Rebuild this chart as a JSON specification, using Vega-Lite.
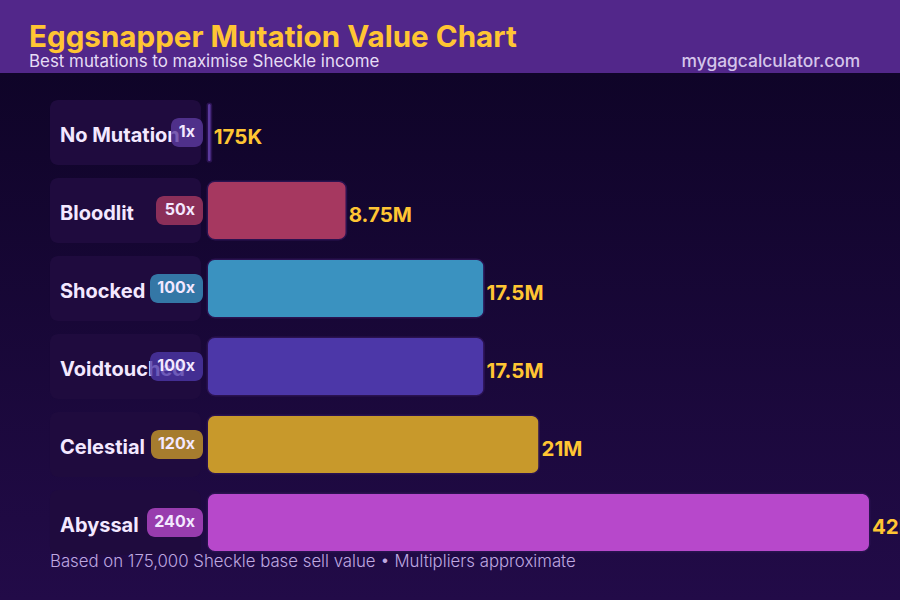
{
  "$schema": "https://vega.github.io/schema/vega-lite/v6.json",
  "width": 900,
  "height": 527,
  "autosize": {"type": "none"},
  "padding": {"left": 0, "top": 73, "right": 0, "bottom": 0},
  "background": "#52278a",
  "title": {
    "text": "Eggsnapper Mutation Value Chart",
    "subtitle": "Best mutations to maximise Sheckle income",
    "anchor": "start",
    "frame": "group",
    "dx": 29,
    "offset": -18,
    "font": "Inter",
    "fontSize": 29.6,
    "fontWeight": 700,
    "color": "#ffc533",
    "subtitleFont": "Inter",
    "subtitleFontSize": 16.9,
    "subtitleFontWeight": 400,
    "subtitleColor": "#e6dcf5",
    "subtitlePadding": 0
  },
  "config": {"view": {"stroke": null}},
  "datasets": {
    "rows": [
      {"name": "No Mutation", "value": 175000, "label": "175K", "multiplier": 1, "badge": "1x"},
      {"name": "Bloodlit", "value": 8750000, "label": "8.75M", "multiplier": 50, "badge": "50x"},
      {"name": "Shocked", "value": 17500000, "label": "17.5M", "multiplier": 100, "badge": "100x"},
      {"name": "Voidtouched", "value": 17500000, "label": "17.5M", "multiplier": 100, "badge": "100x"},
      {"name": "Celestial", "value": 21000000, "label": "21M", "multiplier": 120, "badge": "120x"},
      {"name": "Abyssal", "value": 42000000, "label": "42M", "multiplier": 240, "badge": "240x"}
    ]
  },
  "resolve": {"scale": {"x": "independent"}},
  "layer": [
    {
      "encoding": {
        "x": {"type": "quantitative", "axis": null, "scale": {"domain": [-13216000, 43970000], "nice": false, "zero": false}}
      },
      "layer": [
        {
          "data": {"values": [{}]},
          "mark": {
            "type": "rect",
            "color": {
              "gradient": "linear", "x1": 0, "y1": 0, "x2": 0, "y2": 1,
              "stops": [{"offset": 0, "color": "#0f0428"}, {"offset": 1, "color": "#220b48"}]
            }
          }
        },
        {
          "data": {"name": "rows"},
          "mark": {"type": "rect", "height": 65, "cornerRadius": 8, "color": "#1f0b3e"},
          "encoding": {
            "x": {"datum": -10040000, "type": "quantitative"},
            "x2": {"datum": -445000},
            "y": {"field": "name", "type": "nominal", "axis": null, "sort": null,
              "scale": {"domain": ["No Mutation", "Bloodlit", "Shocked", "Voidtouched", "Celestial", "Abyssal"], "range": [20.5, 488.5], "paddingInner": 0.269, "paddingOuter": 0.1345}}
          }
        },
        {
          "data": {"name": "rows"},
          "mark": {"type": "bar", "cornerRadius": 7, "color": "#2a1250", "stroke": "#2a1250", "strokeWidth": 3},
          "encoding": {
            "x": {"field": "value", "type": "quantitative"},
            "y": {"field": "name", "type": "nominal", "axis": null, "sort": null},
            "opacity": {"condition": {"test": "datum.value < 1000000", "value": 0}, "value": 1}
          }
        },
        {
          "data": {"name": "rows"},
          "mark": {"type": "bar", "cornerRadius": 7},
          "encoding": {
            "x": {"field": "value", "type": "quantitative"},
            "y": {"field": "name", "type": "nominal", "axis": null, "sort": null},
            "color": {"field": "name", "type": "nominal", "legend": null, "sort": null,
              "scale": {"domain": ["No Mutation", "Bloodlit", "Shocked", "Voidtouched", "Celestial", "Abyssal"], "range": ["#5b3a9e", "#a63860", "#3a92c0", "#4c37a8", "#c8992b", "#b748cb"]}}
          }
        },
        {
          "data": {"name": "rows"},
          "mark": {"type": "text", "align": "left", "baseline": "middle", "dx": 3, "dy": 5.5, "font": "Inter", "fontSize": 20.5, "fontWeight": 700, "color": "#ffc533"},
          "encoding": {
            "x": {"field": "value", "type": "quantitative"},
            "y": {"field": "name", "type": "nominal", "axis": null, "sort": null},
            "text": {"field": "label"}
          }
        },
        {
          "data": {"name": "rows"},
          "mark": {"type": "text", "align": "left", "baseline": "middle", "dy": 3.5, "font": "Inter", "fontSize": 20, "fontWeight": 700, "color": "#f3e8ff"},
          "encoding": {
            "x": {"datum": -9404000, "type": "quantitative"},
            "y": {"field": "name", "type": "nominal", "axis": null, "sort": null},
            "text": {"field": "name"}
          }
        },
        {
          "data": {"values": [{"note": "mygagcalculator.com"}]},
          "mark": {"type": "text", "align": "right", "baseline": "middle", "dy": -71, "font": "Inter", "fontSize": 17.4, "fontWeight": 500, "color": "#d5c5ea"},
          "encoding": {
            "x": {"datum": 41442000, "type": "quantitative"},
            "y": {"datum": "No Mutation", "type": "nominal", "axis": null},
            "text": {"field": "note"}
          }
        },
        {
          "data": {"values": [{"note": "Based on 175,000 Sheckle base sell value  •  Multipliers approximate"}]},
          "mark": {"type": "text", "align": "left", "baseline": "middle", "dy": 39, "font": "Inter", "fontSize": 16.8, "fontWeight": 300, "color": "#bfa8e0"},
          "encoding": {
            "x": {"datum": -10040000, "type": "quantitative"},
            "y": {"datum": "Abyssal", "type": "nominal", "axis": null},
            "text": {"field": "note"}
          }
        }
      ]
    },
    {
      "data": {"name": "rows"},
      "encoding": {
        "y": {"field": "name", "type": "nominal", "axis": null, "sort": null}
      },
      "layer": [
        {
          "mark": {"type": "rect", "height": 29, "cornerRadius": 8, "opacity": 0.8},
          "encoding": {
            "x": {"field": "multiplier", "type": "quantitative", "axis": null,
              "scale": {"domain": [0, 1, 50, 100, 120, 240], "range": [203, 171, 156, 150, 151, 147], "nice": false, "zero": false}},
            "x2": {"datum": 0},
            "color": {"field": "name", "type": "nominal", "legend": null, "sort": null}
          }
        },
        {
          "mark": {"type": "text", "align": "right", "baseline": "middle", "dx": -8, "dy": -0.5, "font": "Inter", "fontSize": 16, "fontWeight": 700, "color": "#f3e8ff"},
          "encoding": {
            "x": {"datum": 0, "type": "quantitative"},
            "text": {"field": "badge"}
          }
        }
      ]
    }
  ]
}
